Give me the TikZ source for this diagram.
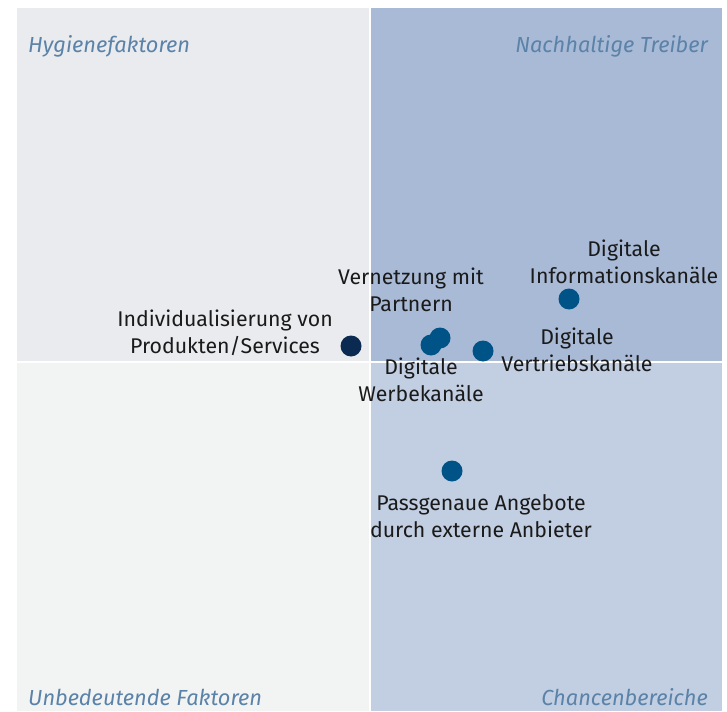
\documentclass[tikz,border=0pt]{standalone}
\usepackage{fontspec}
\setmainfont{Fira Sans}
\definecolor{qTL}{HTML}{E9EBEE}
\definecolor{qTR}{HTML}{A9BAD6}
\definecolor{qBL}{HTML}{F2F4F4}
\definecolor{qBR}{HTML}{C2CFE2}
\definecolor{corner}{HTML}{5B82A8}
\definecolor{dotblue}{HTML}{005387}
\definecolor{dotnavy}{HTML}{0B2A52}
\definecolor{txt}{HTML}{1A1A1A}
\begin{document}
\begin{tikzpicture}[x=1pt,y=-1pt,
  cornerlbl/.style={font=\fontsize{21.8}{26}\selectfont\itshape, text=corner, inner sep=0pt},
  lbl/.style={font=\fontsize{21.3}{27.5}\selectfont, text=txt, align=center, inner sep=0pt},
  pt/.style={circle, fill=dotblue, minimum size=21pt, inner sep=0pt},
  ptdark/.style={circle, fill=dotnavy, minimum size=21pt, inner sep=0pt}]
\useasboundingbox (0,0) rectangle (727,711);
\fill[white] (0,0) rectangle (727,711);
\fill[qTL] (17,8) rectangle (370,362);
\fill[qTR] (370,8) rectangle (722,362);
\fill[qBL] (17,362) rectangle (370,711);
\fill[qBR] (370,362) rectangle (722,711);
\draw[white, line width=2pt] (370,8) -- (370,711);
\draw[white, line width=2pt] (17,362) -- (722,362);
% corner labels
\node[cornerlbl, anchor=west] (hyg) at (28,46) {Hygienefaktoren};
\node[cornerlbl, anchor=east] (nach) at (708,46) {Nachhaltige Treiber};
\node[cornerlbl, anchor=west] (unb) at (28,697) {Unbedeutende Faktoren};
\node[cornerlbl, anchor=east] (chan) at (708,697) {Chancenbereiche};
% dots
\node[ptdark] (d1) at (351,346) {};
\node[pt] (d2) at (431,345) {};
\node[pt] (d3) at (440,338) {};
\node[pt] (d4) at (483,351) {};
\node[pt] (d5) at (569,299) {};
\node[pt] (d6) at (452,471) {};
% labels
\node[lbl] (l1) at (225,333) {Individualisierung von\\Produkten/Services};
\node[lbl] (l3) at (411,290) {Vernetzung mit\\Partnern};
\node[lbl] (l2) at (421,380) {Digitale\\Werbekanäle};
\node[lbl] (l4) at (577,350) {Digitale\\Vertriebskanäle};
\node[lbl] (l5) at (624,262) {Digitale\\Informationskanäle};
\node[lbl] (l6) at (481,516) {Passgenaue Angebote\\durch externe Anbieter};
\end{tikzpicture}
\end{document}
